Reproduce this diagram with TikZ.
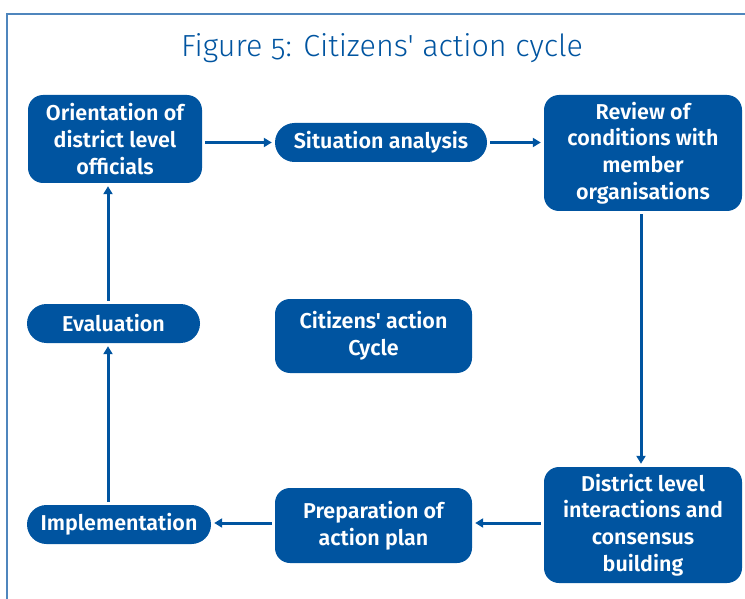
\documentclass[tikz,border=0pt]{standalone}
\usepackage{fontspec}
\setmainfont{Fira Sans}
\newfontfamily\titlefont{Fira Sans Light}[Numbers=OldStyle]
\newfontfamily\boxfont{Fira Sans SemiBold}
\usetikzlibrary{arrows.meta}
\definecolor{cycleblue}{HTML}{0054A0}
\definecolor{frameblue}{HTML}{4F86BD}
\tikzset{
  stagebox/.style={fill=cycleblue, text=white, align=center, inner sep=0pt,
    font=\boxfont\fontsize{21.5}{26.8}\selectfont, rounded corners=15pt},
  pillbox/.style={stagebox, rounded corners=19.5pt},
  flow/.style={cycleblue, line width=3pt, -{Triangle[width=9pt,length=8pt]},
    shorten >=3pt, shorten <=3pt},
}

\begin{document}
\begin{tikzpicture}[x=1pt, y=-1pt]
    \useasboundingbox (0,0) rectangle (745,599);

    % frame and title
    \draw [frameblue, line width=1.5pt] (7,599) -- (7,14) -- (745,14);
    \node [text=cycleblue, font=\titlefont\fontsize{30.5}{34}\selectfont] (title) at (382,48) {Figure 5: Citizens' action cycle};

    % the stages
    \node [stagebox, minimum width=174, minimum height=88] (orient) at (115,139)
        {Orientation of\\district level\\officials};
    \node [pillbox, minimum width=212, minimum height=39] (situ) at (381,142.5)
        {Situation analysis};
    \node [stagebox, minimum width=198, minimum height=116] (review) at (643,153)
        {Review of\\conditions with\\member\\organisations};
    \node [stagebox, minimum width=198, minimum height=116] (district) at (643,525)
        {District level\\interactions and\\consensus\\building};
    \node [stagebox, minimum width=197, minimum height=75] (prep) at (373.5,525.5)
        {Preparation of\\action plan};
    \node [pillbox, minimum width=184, minimum height=39] (impl) at (119,524.5)
        {Implementation};
    \node [pillbox, minimum width=173, minimum height=39] (eval) at (113.5,323.5)
        {Evaluation};
    \node [stagebox, minimum width=197, minimum height=74] (cycle) at (373.5,336)
        {Citizens' action\\Cycle};

    % the cycle arrows
    \coordinate (spine) at (108,0);
    \draw [flow] (orient.east |- situ.west) -- (situ.west);
    \draw [flow] (situ.east) -- (situ.east -| review.west);
    \draw [flow] ([xshift=-2pt]review.south) -- ([xshift=-2pt]district.north);
    \draw [flow] (district.west |- 0,523) -- (prep.east |- 0,523);
    \draw [flow] (prep.west |- 0,523) -- (impl.east |- 0,523);
    \draw [flow] (spine |- impl.north) -- (spine |- eval.south);
    \draw [flow] (spine |- eval.north) -- (spine |- orient.south);
\end{tikzpicture}
\end{document}
